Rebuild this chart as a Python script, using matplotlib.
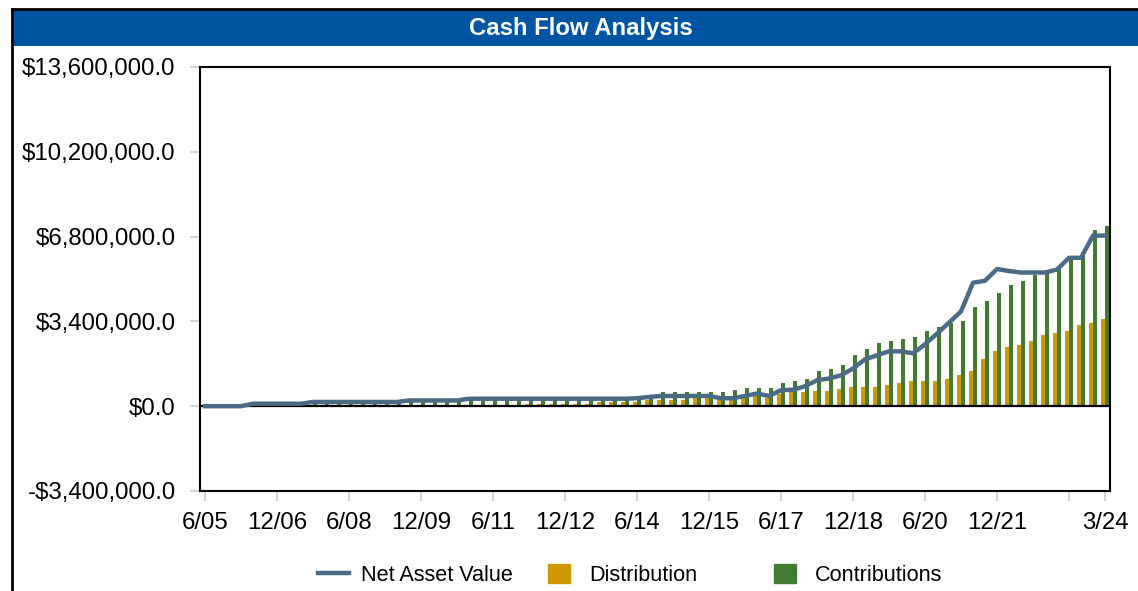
import numpy as np
import matplotlib
matplotlib.use("Agg")
from matplotlib import pyplot as plt
from matplotlib.patches import Rectangle, Patch
from matplotlib.lines import Line2D

plt.rcParams["font.family"] = ["Liberation Sans", "DejaVu Sans"]

# quarterly, 6/05 .. 3/24 (values in $ millions)
nav = [0, 0, 0, 0,
       0.1, 0.1, 0.1, 0.1, 0.1,
       0.17, 0.17, 0.17, 0.17, 0.17, 0.17, 0.17, 0.17,
       0.23, 0.23, 0.23, 0.23, 0.23,
       0.3, 0.3, 0.3, 0.3, 0.3, 0.3, 0.3, 0.3, 0.3, 0.3, 0.3, 0.3, 0.3, 0.3,
       0.32, 0.37, 0.41, 0.41, 0.41, 0.41, 0.41, 0.32, 0.32, 0.41, 0.51, 0.41,
       0.64, 0.66, 0.8, 1.04, 1.11, 1.24, 1.51, 1.88, 2.04, 2.2, 2.2, 2.12,
       2.48, 2.91, 3.35, 3.8, 4.95, 5.03, 5.5, 5.42, 5.36, 5.36, 5.36, 5.48,
       5.95, 5.95, 6.84, 6.84]

contributions = [0, 0, 0, 0,
                 0.09, 0.09, 0.09, 0.09, 0.09,
                 0.12, 0.12, 0.12, 0.12, 0.12, 0.12, 0.12, 0.12,
                 0.19, 0.19, 0.19, 0.19, 0.19,
                 0.25, 0.25, 0.25, 0.25, 0.25, 0.25, 0.25, 0.25, 0.25, 0.25,
                 0.25, 0.25, 0.25, 0.25, 0.25,
                 0.33, 0.55, 0.55, 0.55, 0.55, 0.55, 0.55, 0.63, 0.71, 0.71, 0.71,
                 0.95, 1.03, 1.1, 1.4, 1.48, 1.64, 2.04, 2.28, 2.52, 2.6, 2.68, 2.76,
                 3.0, 3.16, 3.32, 3.4, 3.96, 4.2, 4.52, 4.84, 5.0, 5.28, 5.48, 5.64,
                 5.88, 6.2, 7.08, 7.24]

distribution = [0.03, 0, 0, 0,
                0.04, 0.04, 0.04, 0.04, 0.04, 0.04, 0.04, 0.04, 0.04, 0.04,
                0.04, 0.04, 0.04, 0.04, 0.04, 0.04, 0.04, 0.04, 0.04, 0.04,
                0.04, 0.04, 0.04,
                0.08, 0.08, 0.08, 0.08, 0.08, 0.08,
                0.16, 0.16, 0.16, 0.16,
                0.24, 0.24, 0.24, 0.24, 0.33, 0.33, 0.24, 0.24, 0.33, 0.41, 0.33,
                0.48, 0.57, 0.55, 0.6, 0.6, 0.68, 0.76, 0.76, 0.76, 0.84, 0.92, 1.0,
                1.0, 1.0, 1.08, 1.24, 1.4, 1.88, 2.2, 2.36, 2.44, 2.6, 2.84, 2.92,
                3.0, 3.24, 3.32, 3.48]

tick_pos = [0, 6, 12, 18, 24, 30, 36, 42, 48, 54, 60, 66, 72, 75]
tick_labels = ["6/05", "12/06", "6/08", "12/09", "6/11", "12/12", "6/14",
               "12/15", "6/17", "12/18", "6/20", "12/21", "", "3/24"]
y_ticks = [-3400000, 0, 3400000, 6800000, 10200000, 13600000]
y_labels = ["-$3,400,000.0", "$0.0", "$3,400,000.0", "$6,800,000.0",
            "$10,200,000.0", "$13,600,000.0"]

c_nav = "#4a6b86"
c_dist = "#cc9a00"
c_contrib = "#427a31"
c_banner = "#0055a2"

x = np.arange(len(nav))
nav_v = np.array(nav) * 1e6
con_v = np.array(contributions) * 1e6
dis_v = np.array(distribution) * 1e6

fig = plt.figure(figsize=(11.38, 5.91), dpi=100)
ax = fig.add_axes([200 / 1138, 1 - 491 / 591, 910 / 1138, 424 / 591])

w = 0.35
ax.bar(x - w / 2, dis_v, width=w, color=c_dist, zorder=2)
ax.bar(x + w / 2, con_v, width=w, color=c_contrib, zorder=2)
ax.axhline(0, color="black", lw=1.6, zorder=3)
ax.plot(x, nav_v, color=c_nav, lw=3.2, zorder=4, solid_joinstyle="round")

ax.set_xlim(-5 / 12, 75 + 5 / 12)
ax.set_ylim(-3400000, 13600000)
ax.set_xticks(tick_pos)
ax.set_xticklabels(tick_labels, fontsize=17.3)
ax.set_yticks(y_ticks)
ax.set_yticklabels(y_labels, fontsize=17.3)
ax.tick_params(axis="both", color="#d4d4d4", length=7.5, width=1.5)
ax.tick_params(axis="x", pad=7.5)
ax.tick_params(axis="y", pad=10)
for s in ax.spines.values():
    s.set_linewidth(1.5)
    s.set_color("black")

# header banner and frame
fig.add_artist(Rectangle((12 / 1138, 1 - 46 / 591), 1, 36 / 591,
                         transform=fig.transFigure, color=c_banner, lw=0))
fig.add_artist(Line2D([12 / 1138, 1], [1 - 9 / 591] * 2, color="black", lw=2,
                      transform=fig.transFigure))
fig.add_artist(Line2D([12 / 1138] * 2, [0, 1 - 9 / 591], color="black", lw=2,
                      transform=fig.transFigure))
fig.text(581 / 1138, 1 - 28.5 / 591, "Cash Flow Analysis", color="white",
         fontsize=17.2, fontweight="bold", ha="center", va="center")

# legend, three separate entries
ly = 1 - 575 / 591
items = [
    (318, Line2D([], [], color=c_nav, lw=3.2), "Net Asset Value", 1.45, 0.55),
    (548, Patch(color=c_dist), "Distribution", 1.0, 0.9),
    (774, Patch(color=c_contrib), "Contributions", 1.0, 0.9),
]
for px, h, lab, hl, tp in items:
    fig.legend([h], [lab], loc="center left", bbox_to_anchor=(px / 1138, ly),
               frameon=False, fontsize=15.6, handlelength=hl, handleheight=1.0,
               handletextpad=tp, borderpad=0, borderaxespad=0)

fig.savefig("out.png", dpi=100)
